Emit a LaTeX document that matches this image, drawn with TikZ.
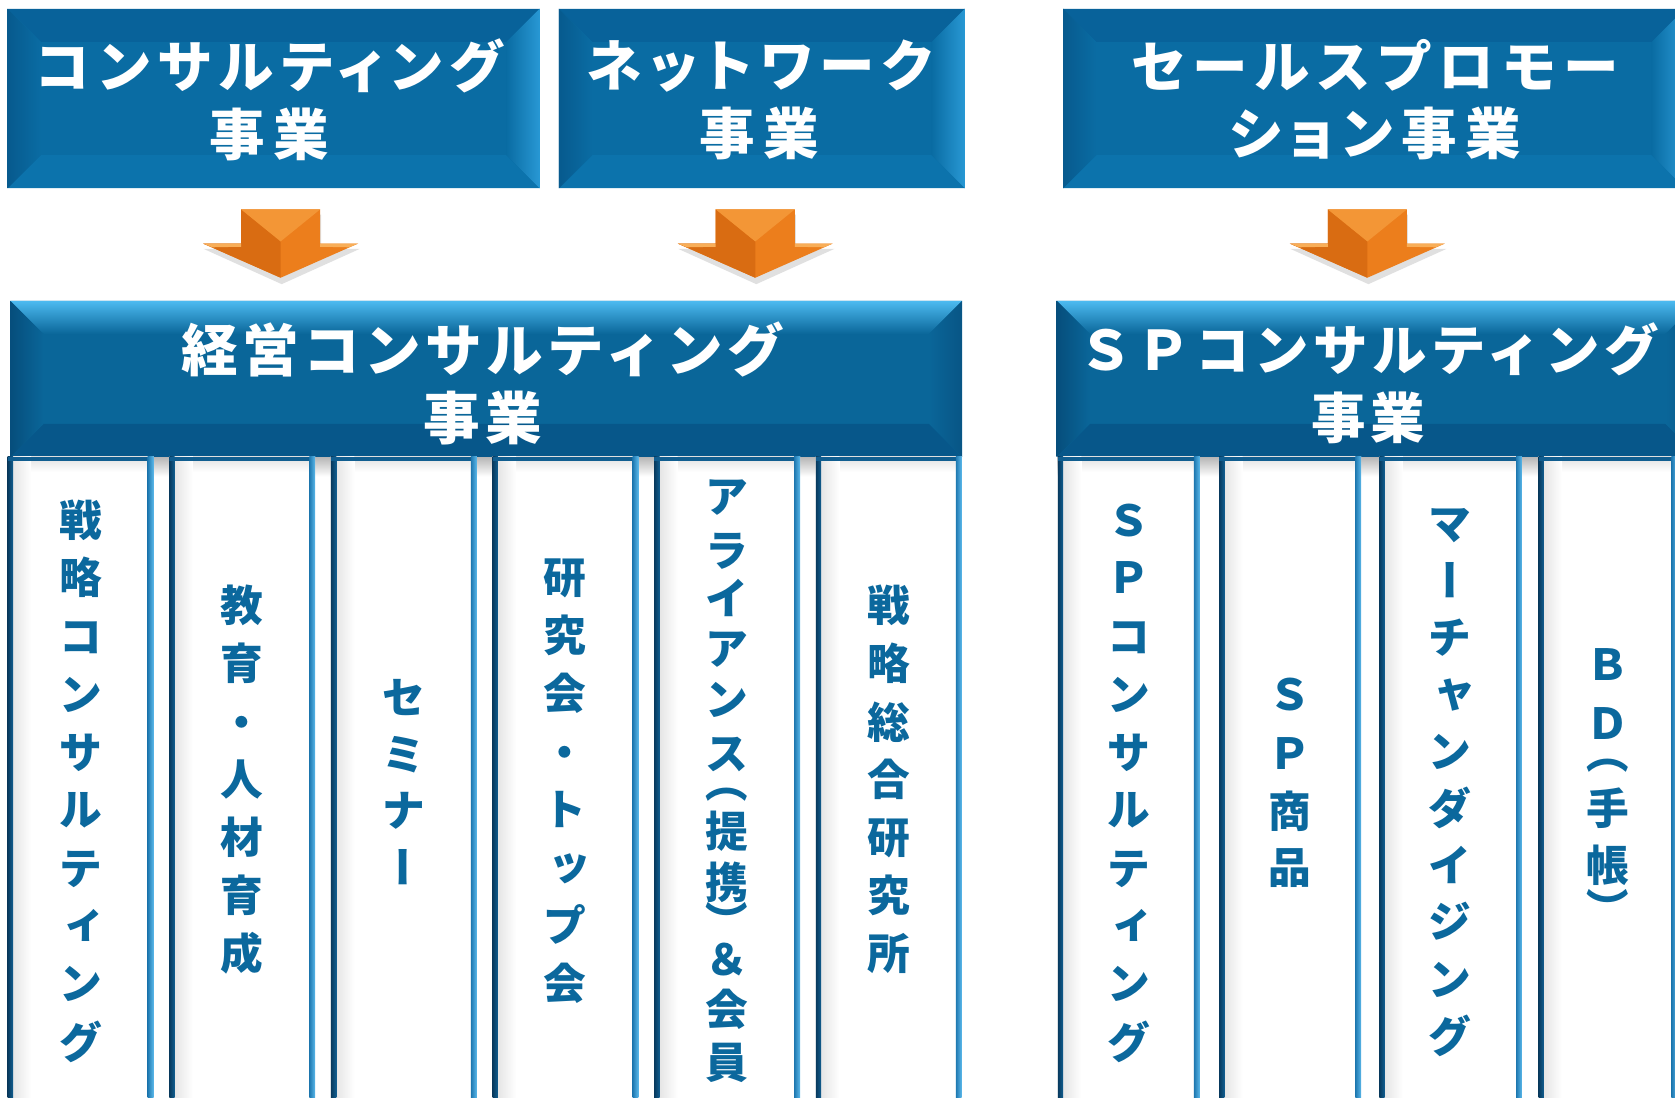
\documentclass[tikz,border=0pt]{standalone}
\usepackage{fontspec}
\usetikzlibrary{calc}
\newfontfamily\jptop{Noto Sans CJK JP}[RawFeature=+palt,LetterSpace=15]
\newfontfamily\jpmid{Noto Sans CJK JP}[LetterSpace=8]
\newfontfamily\jpcol{Noto Sans CJK JP}
\definecolor{tface}{HTML}{0A6CA3}
\definecolor{ttop}{HTML}{08629A}
\definecolor{tleftc}{HTML}{075A8E}
\definecolor{tright}{HTML}{2898D4}
\definecolor{tbot}{HTML}{0C73AC}
\definecolor{mface}{HTML}{0A6699}
\definecolor{mlight}{HTML}{4CBAF0}
\definecolor{mleft}{HTML}{064E7C}
\definecolor{mright}{HTML}{085585}
\definecolor{mbot}{HTML}{07578A}
\definecolor{cdarkA}{HTML}{083A5E}
\definecolor{cdarkB}{HTML}{115E90}
\definecolor{clightA}{HTML}{1E78B0}
\definecolor{clightB}{HTML}{5BB8EA}
\definecolor{ctext}{HTML}{0B689D}
\definecolor{orM}{HTML}{EC7E1C}
\definecolor{orD}{HTML}{D96C12}
\definecolor{orL}{HTML}{F39636}
\definecolor{orH}{HTML}{F8AE58}
\tikzset{
  tbox/.style={fill=tface, inner sep=0, path picture={
    \coordinate (pa) at (path picture bounding box.north west);
    \coordinate (pc) at (path picture bounding box.south east);
    \coordinate (pb) at (pa -| pc);
    \coordinate (pd) at (pa |- pc);
    \fill[ttop] (pa) -- (pb) -- ($(pb)+(-31pt,-31pt)$) -- ($(pa)+(31pt,-31pt)$) -- cycle;
    \fill[tbot] (pd) -- (pc) -- ($(pc)+(-31pt,31pt)$) -- ($(pd)+(31pt,31pt)$) -- cycle;
    \fill[left color=tleftc, right color=tface] (pa) -- ($(pa)+(31pt,-31pt)$) -- ($(pd)+(31pt,31pt)$) -- (pd) -- cycle;
    \fill[left color=tface, right color=tright] (pb) -- (pc) -- ($(pc)+(-31pt,31pt)$) -- ($(pb)+(-31pt,-31pt)$) -- cycle;
  }},
  mbox/.style={fill=mface, inner sep=0, path picture={
    \coordinate (pa) at (path picture bounding box.north west);
    \coordinate (pc) at (path picture bounding box.south east);
    \coordinate (pb) at (pa -| pc);
    \coordinate (pd) at (pa |- pc);
    \fill[top color=mlight, bottom color=mface] (pa) -- (pb) -- ($(pb)+(-31pt,-31pt)$) -- ($(pa)+(31pt,-31pt)$) -- cycle;
    \fill[mbot] (pd) -- (pc) -- ($(pc)+(-31pt,31pt)$) -- ($(pd)+(31pt,31pt)$) -- cycle;
    \fill[left color=mleft, right color=mface] (pa) -- ($(pa)+(31pt,-31pt)$) -- ($(pd)+(31pt,31pt)$) -- (pd) -- cycle;
    \fill[left color=mface, right color=mright] (pb) -- (pc) -- ($(pc)+(-31pt,31pt)$) -- ($(pb)+(-31pt,-31pt)$) -- cycle;
  }},
  colbox/.style={fill=white, inner sep=0, anchor=north west, minimum height=640pt, path picture={
    \coordinate (pa) at (path picture bounding box.north west);
    \coordinate (pc) at (path picture bounding box.south east);
    \coordinate (pb) at (pa -| pc);
    \coordinate (pd) at (pa |- pc);
    \fill[top color=black!12, bottom color=white] (pa) rectangle ($(pb)+(0,-14pt)$);
    \fill[left color=black!13, right color=white] (pa) rectangle ($(pd)+(22pt,0)$);
    \fill[left color=cdarkA, right color=cdarkB] (pa) rectangle ($(pd)+(5pt,0)$);
    \fill[cdarkB] (pa) rectangle ($(pb)+(0,-4pt)$);
    \fill[left color=clightA, right color=clightB] ($(pb)+(-5.5pt,0)$) rectangle (pc);
  }},
  ttext/.style={text=white, align=center, inner sep=0, font=\jptop\bfseries\fontsize{52}{63}\selectfont},
  mtext/.style={text=white, align=center, inner sep=0, font=\jpmid\bfseries\fontsize{53}{64}\selectfont},
  vch/.style={text=ctext, inner sep=0, text height=35pt, text depth=5pt, font=\jpcol\bfseries\fontsize{40}{40}\selectfont},
  nx/.style={},
  sk/.style={xshift=4pt, yshift=4pt},
  rv/.style={rotate=90},
  po/.style={rotate=-90},
  darrow/.pic={
    \fill[black!12] (-36,5) -- (38,5) -- (38,37) -- (74,37) -- (1,70) -- (-72,37) -- (-36,37) -- cycle;
    \fill[orM] (-37,0) -- (37,0) -- (37,32) -- (72.5,32) -- (0,64) -- (-72.5,32) -- (-37,32) -- cycle;
    \fill[orD] (-37,0) -- (0,30) -- (0,64) -- (-72.5,32) -- (-37,32) -- cycle;
    \fill[orL] (-37,0) -- (37,0) -- (0,30) -- cycle;
    \fill[orH] (-72.5,32) -- (-37,32) -- (-37,35) -- (-64,35.5) -- cycle;
    \fill[orH] (72.5,32) -- (37,32) -- (37,35) -- (64,35.5) -- cycle;
  },
}
\begin{document}
\begin{tikzpicture}[x=1pt,y=-1pt]
\path[clip] (0,0) rectangle (1568,1027);
\fill[white] (0,0) rectangle (1568,1027);
% top boxes
\node[tbox, anchor=north west, minimum width=498pt, minimum height=168pt] (T1) at (7,8) {};
\node[tbox, anchor=north west, minimum width=380pt, minimum height=168pt] (T2) at (523,8) {};
\node[tbox, anchor=north west, minimum width=582pt, minimum height=168pt] (T3) at (995,8) {};
\node[ttext] (T1t) at (252,93.5) {コンサルティング\\事業};
\node[ttext] (T2t) at (711,93.5) {ネットワーク\\事業};
\node[ttext] (T3t) at (1287,93.5) {セールスプロモー\\ション事業};
% arrows
\pic at (262.7,196) {darrow};
\pic at (707,196) {darrow};
\pic at (1280,196) {darrow};
% shadow beneath middle boxes
\fill[top color=black!30, bottom color=white] (10,427) rectangle (900,446);
\fill[top color=black!30, bottom color=white] (990,427) rectangle (1590,446);
% middle boxes
\node[mbox, anchor=north west, minimum width=891pt, minimum height=146pt] (M1) at (9.5,281.5) {};
\node[mbox, anchor=north west, minimum width=601pt, minimum height=146pt] (M2) at (989,281.5) {};
\node[mtext] (M1t) at (452,359) {経営コンサルティング\\事業};
\node[mtext, font=\jpmid\bfseries\fontsize{51}{64}\selectfont] (M2t) at (1281,359) {ＳＰコンサルティング\\事業};
% columns
\foreach \k/\xx in {1/7,2/158.3,3/309.6,4/460.9,5/612.2,6/763.5}
  \node[colbox, minimum width=136.5pt] (L\k) at (\xx,427.5) {};
\foreach \k/\xx/\ww in {1/990/133,2/1141/133,3/1291/133.5,4/1440/130}
  \node[colbox, minimum width=\ww pt] (R\k) at (\xx,427.5) {};
% column texts
\foreach \c/\y/\o [count=\i] in {戦/487/nx,略/541/nx,コ/596/nx,ン/650/nx,サ/704/nx,ル/758/nx,テ/813/nx,ィ/867/sk,ン/921/nx,グ/976/nx}
  \node[vch,\o] (L1c\i) at (75.25,\y) {\c};
\foreach \c/\y/\o [count=\i] in {教/567/nx,育/621/nx,・/676/nx,人/730/nx,材/784/nx,育/838/nx,成/893/nx}
  \node[vch,\o] (L2c\i) at (226.5,\y) {\c};
\foreach \c/\y/\o [count=\i] in {セ/653/nx,ミ/706/nx,ナ/759/nx,ー/812/rv}
  \node[vch,\o] (L3c\i) at (377.8,\y) {\c};
\foreach \c/\y/\o [count=\i] in {研/541/nx,究/595/nx,会/649/nx,・/704/nx,ト/758/nx,ッ/812/sk,プ/866/nx,会/921/nx}
  \node[vch,\o] (L4c\i) at (529,\y) {\c};
\foreach \c/\y/\o [count=\i] in {ア/465/nx,ラ/515/nx,イ/560/nx,ア/607/nx,ン/655/nx,ス/705/nx,（/732/po,提/778/nx,携/826/nx,）/863/po,＆/898/nx,会/945/nx,員/995/nx}
  \node[vch,\o] (L5c\i) at (680,\y) {\c};
\foreach \c/\y/\o [count=\i] in {戦/567/nx,略/621/nx,総/676/nx,合/730/nx,研/784/nx,究/838/nx,所/893/nx}
  \node[vch,\o] (L6c\i) at (831.7,\y) {\c};
\foreach \c/\y/\o [count=\i] in {Ｓ/487/nx,Ｐ/541/nx,コ/596/nx,ン/650/nx,サ/704/nx,ル/758/nx,テ/813/nx,ィ/867/sk,ン/921/nx,グ/976/nx}
  \node[vch,\o] (R1c\i) at (1056.5,\y) {\c};
\foreach \c/\y/\o [count=\i] in {Ｓ/650/nx,Ｐ/705/nx,商/760/nx,品/812/nx}
  \node[vch,\o] (R2c\i) at (1207.5,\y) {\c};
\foreach \c/\y/\o [count=\i] in {マ/490/nx,ー/543/rv,チ/597/nx,ャ/650/sk,ン/703/nx,ダ/757/nx,イ/810/nx,ジ/863/nx,ン/917/nx,グ/970/nx}
  \node[vch,\o] (R3c\i) at (1357.5,\y) {\c};
\foreach \c/\y/\o [count=\i] in {Ｂ/622/nx,Ｄ/677/nx,（/705/po,手/757/nx,帳/810/nx,）/851/po}
  \node[vch,\o] (R4c\i) at (1505,\y) {\c};
\end{tikzpicture}
\end{document}
